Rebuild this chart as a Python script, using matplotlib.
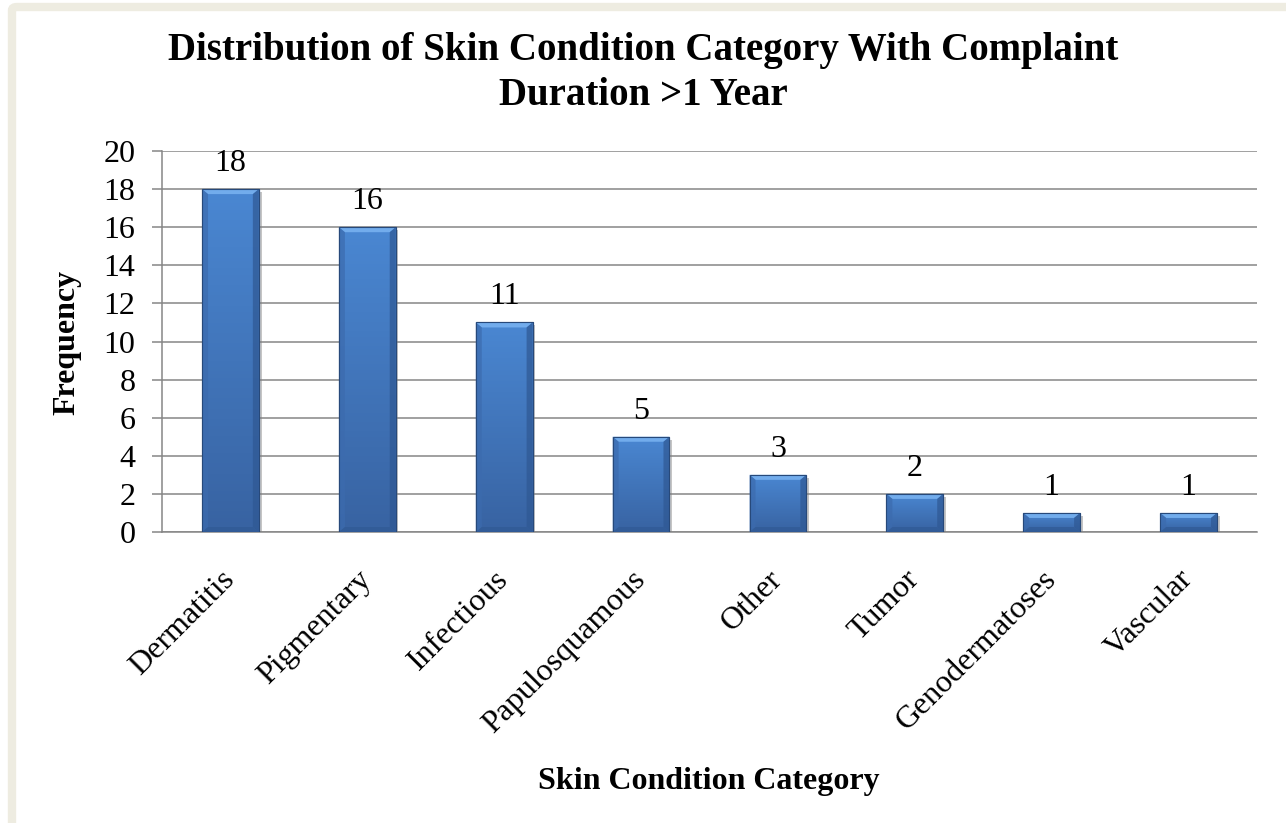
import numpy as np
import matplotlib
matplotlib.use("Agg")
import matplotlib.pyplot as plt
import matplotlib.patheffects as pe
from matplotlib.patches import FancyBboxPatch, Polygon

categories = ["Dermatitis", "Pigmentary", "Infectious", "Papulosquamous",
              "Other", "Tumor", "Genodermatoses", "Vascular"]
frequency = [18, 16, 11, 5, 3, 2, 1, 1]
y_ticks = [0, 2, 4, 6, 8, 10, 12, 14, 16, 18, 20]

title = "Distribution of Skin Condition Category With Complaint\nDuration >1 Year"
x_label = "Skin Condition Category"
y_label = "Frequency"

plt.rcParams["font.family"] = ["Liberation Serif", "DejaVu Serif"]

W, H = 1286, 823
fig = plt.figure(figsize=(W / 100, H / 100), dpi=100)

# beige frame around the chart area
frame = FancyBboxPatch((12 / W, -0.05), 1.05, 1 - 7 / H + 0.05,
                       boxstyle="round,pad=0,rounding_size=0.004",
                       transform=fig.transFigure, facecolor="white",
                       edgecolor="#EEECE1", linewidth=6, zorder=-10)
fig.patches.append(frame)

ax = fig.add_axes([162 / W, 1 - 532 / H, (1257 - 162) / W, (532 - 151) / H])
ax.set_facecolor("none")

x = np.arange(len(categories))
bar_w = 0.415
bars = ax.bar(x, frequency, width=bar_w, color="#4377C0",
              edgecolor="#2A4E82", linewidth=0.8, zorder=3)

# soft drop shadow
for b in bars:
    b.set_path_effects([pe.SimplePatchShadow(offset=(2, -2), shadow_rgbFace="#7F7F7F", alpha=0.45),
                        pe.Normal()])

# vertical gradient on the bar faces
grad = np.linspace(0, 1, 100).reshape(-1, 1)
cmap = matplotlib.colors.LinearSegmentedColormap.from_list("face", ["#3863A2", "#4A87D2"])
for b in bars:
    bx, by = b.get_x(), b.get_y()
    bw, bh = b.get_width(), b.get_height()
    im = ax.imshow(grad, cmap=cmap, origin="lower", aspect="auto",
                   extent=[bx, bx + bw, by, by + bh], zorder=3.1)
    im.set_clip_path(b)

# bevel edges
ppx = 1 / 136.9   # data units per pixel along x
ppy = 1 / 19.05   # data units per pixel along y
for b in bars:
    x0, x1 = b.get_x(), b.get_x() + b.get_width()
    y1 = b.get_height()
    dx, dy = 6 * ppx, 5 * ppy
    top = Polygon([(x0, y1), (x1, y1), (x1 - dx, y1 - dy), (x0 + dx, y1 - dy)],
                  closed=True, facecolor="#72ACEC", edgecolor="none", zorder=3.2)
    left = Polygon([(x0, 0), (x0, y1), (x0 + dx, y1 - dy), (x0 + dx, dy)],
                   closed=True, facecolor="#3C6BAE", edgecolor="none", alpha=0.7, zorder=3.2)
    right = Polygon([(x1, 0), (x1, y1), (x1 - dx, y1 - dy), (x1 - dx, dy)],
                    closed=True, facecolor="#2F5893", edgecolor="none", alpha=0.7, zorder=3.2)
    bottom = Polygon([(x0, 0), (x1, 0), (x1 - dx, dy), (x0 + dx, dy)],
                     closed=True, facecolor="#305A95", edgecolor="none", alpha=0.7, zorder=3.2)
    for p in (top, left, right, bottom):
        ax.add_patch(p)
    ax.add_patch(Polygon([(x0, 0), (x0, y1), (x1, y1), (x1, 0)], closed=True,
                         facecolor="none", edgecolor="#27497A", linewidth=0.8, zorder=3.3))

# value labels
for xi, v in zip(x, frequency):
    ax.annotate(str(v), (xi, v), xytext=(0, 13), textcoords="offset points",
                ha="center", va="baseline", fontsize=23, zorder=4)

ax.set_xlim(-0.5, len(categories) - 0.5)
ax.set_ylim(0, 20)
ax.set_yticks(y_ticks)
ax.grid(axis="y", color="#868686", linewidth=1.1, zorder=0)
ax.set_axisbelow(True)

for side in ("top", "right"):
    ax.spines[side].set_visible(False)
for side in ("left", "bottom"):
    ax.spines[side].set_color("#868686")
    ax.spines[side].set_linewidth(1.1)

ax.tick_params(axis="y", length=7, width=1.1, color="#868686", pad=12, labelsize=23)
ax.tick_params(axis="x", length=0, pad=31, labelsize=23)
ax.set_xticks(x)
ax.set_xticklabels(categories, rotation=45, ha="right", va="center", rotation_mode="anchor")

fig.text(0.5, 1 - 32 / H, title, ha="center", va="top", fontsize=28,
         fontweight="bold", linespacing=1.3)
fig.text(709 / W, 1 - 789 / H, x_label, ha="center", va="baseline",
         fontsize=23, fontweight="bold")
fig.text(67 / W, 1 - 342 / H, y_label, ha="center", va="center", rotation=90,
         fontsize=23, fontweight="bold")

fig.savefig("out.png", dpi=100)
